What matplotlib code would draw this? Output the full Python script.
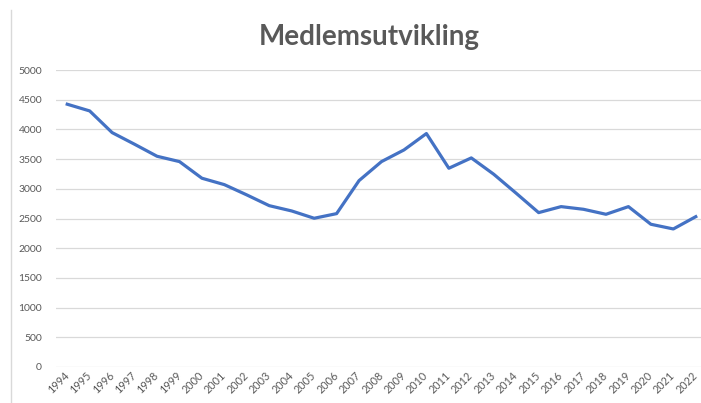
import matplotlib
matplotlib.use("Agg")
import matplotlib.pyplot as plt
from matplotlib.lines import Line2D

years = [str(y) for y in range(1994, 2023)]
members = [4424, 4311, 3946, 3750, 3548, 3458, 3178, 3070, 2897, 2716,
           2627, 2504, 2582, 3138, 3458, 3654, 3930, 3346, 3520, 3245,
           2925, 2599, 2700, 2655, 2571, 2700, 2403, 2324, 2531]
yticks = [0, 500, 1000, 1500, 2000, 2500, 3000, 3500, 4000, 4500, 5000]
title = "Medlemsutvikling"

plt.rcParams['font.family'] = ['Lato', 'DejaVu Sans']
W, H = 701, 403
fig = plt.figure(figsize=(W / 100, H / 100), dpi=100)
fig.patch.set_facecolor("white")

ax = fig.add_axes([56 / W, 36 / H, (707 - 56) / W, 297 / H])
x = list(range(len(years)))
ax.plot(x, members, color="#4472C4", lw=2.3, solid_joinstyle="round", zorder=3)

ax.set_xlim(-0.5, len(years) - 0.5)
ax.set_ylim(0, 5000)
ax.set_yticks(yticks)
ax.set_yticklabels([str(v) for v in yticks], fontsize=7.5, color="#595959")
ax.set_xticks(x)
ax.set_xticklabels(years, rotation=45, ha="right", va="center", rotation_mode="anchor",
                   fontsize=7.8, color="#595959")
ax.tick_params(axis="both", length=0)
ax.tick_params(axis="y", pad=10)
ax.tick_params(axis="x", pad=5)
ax.grid(axis="y", color="#D9D9D9", lw=0.9)
ax.set_axisbelow(True)
for s in ax.spines.values():
    s.set_visible(False)

fig.text(369 / W, 1 - 37 / H, title, ha="center", va="center",
         fontsize=20, fontweight="bold", color="#595959")
fig.add_artist(Line2D([11 / W, 11 / W], [0, 1 - 10 / H], transform=fig.transFigure,
                      color="#D9D9D9", lw=1))

fig.savefig("out.png", dpi=100)
